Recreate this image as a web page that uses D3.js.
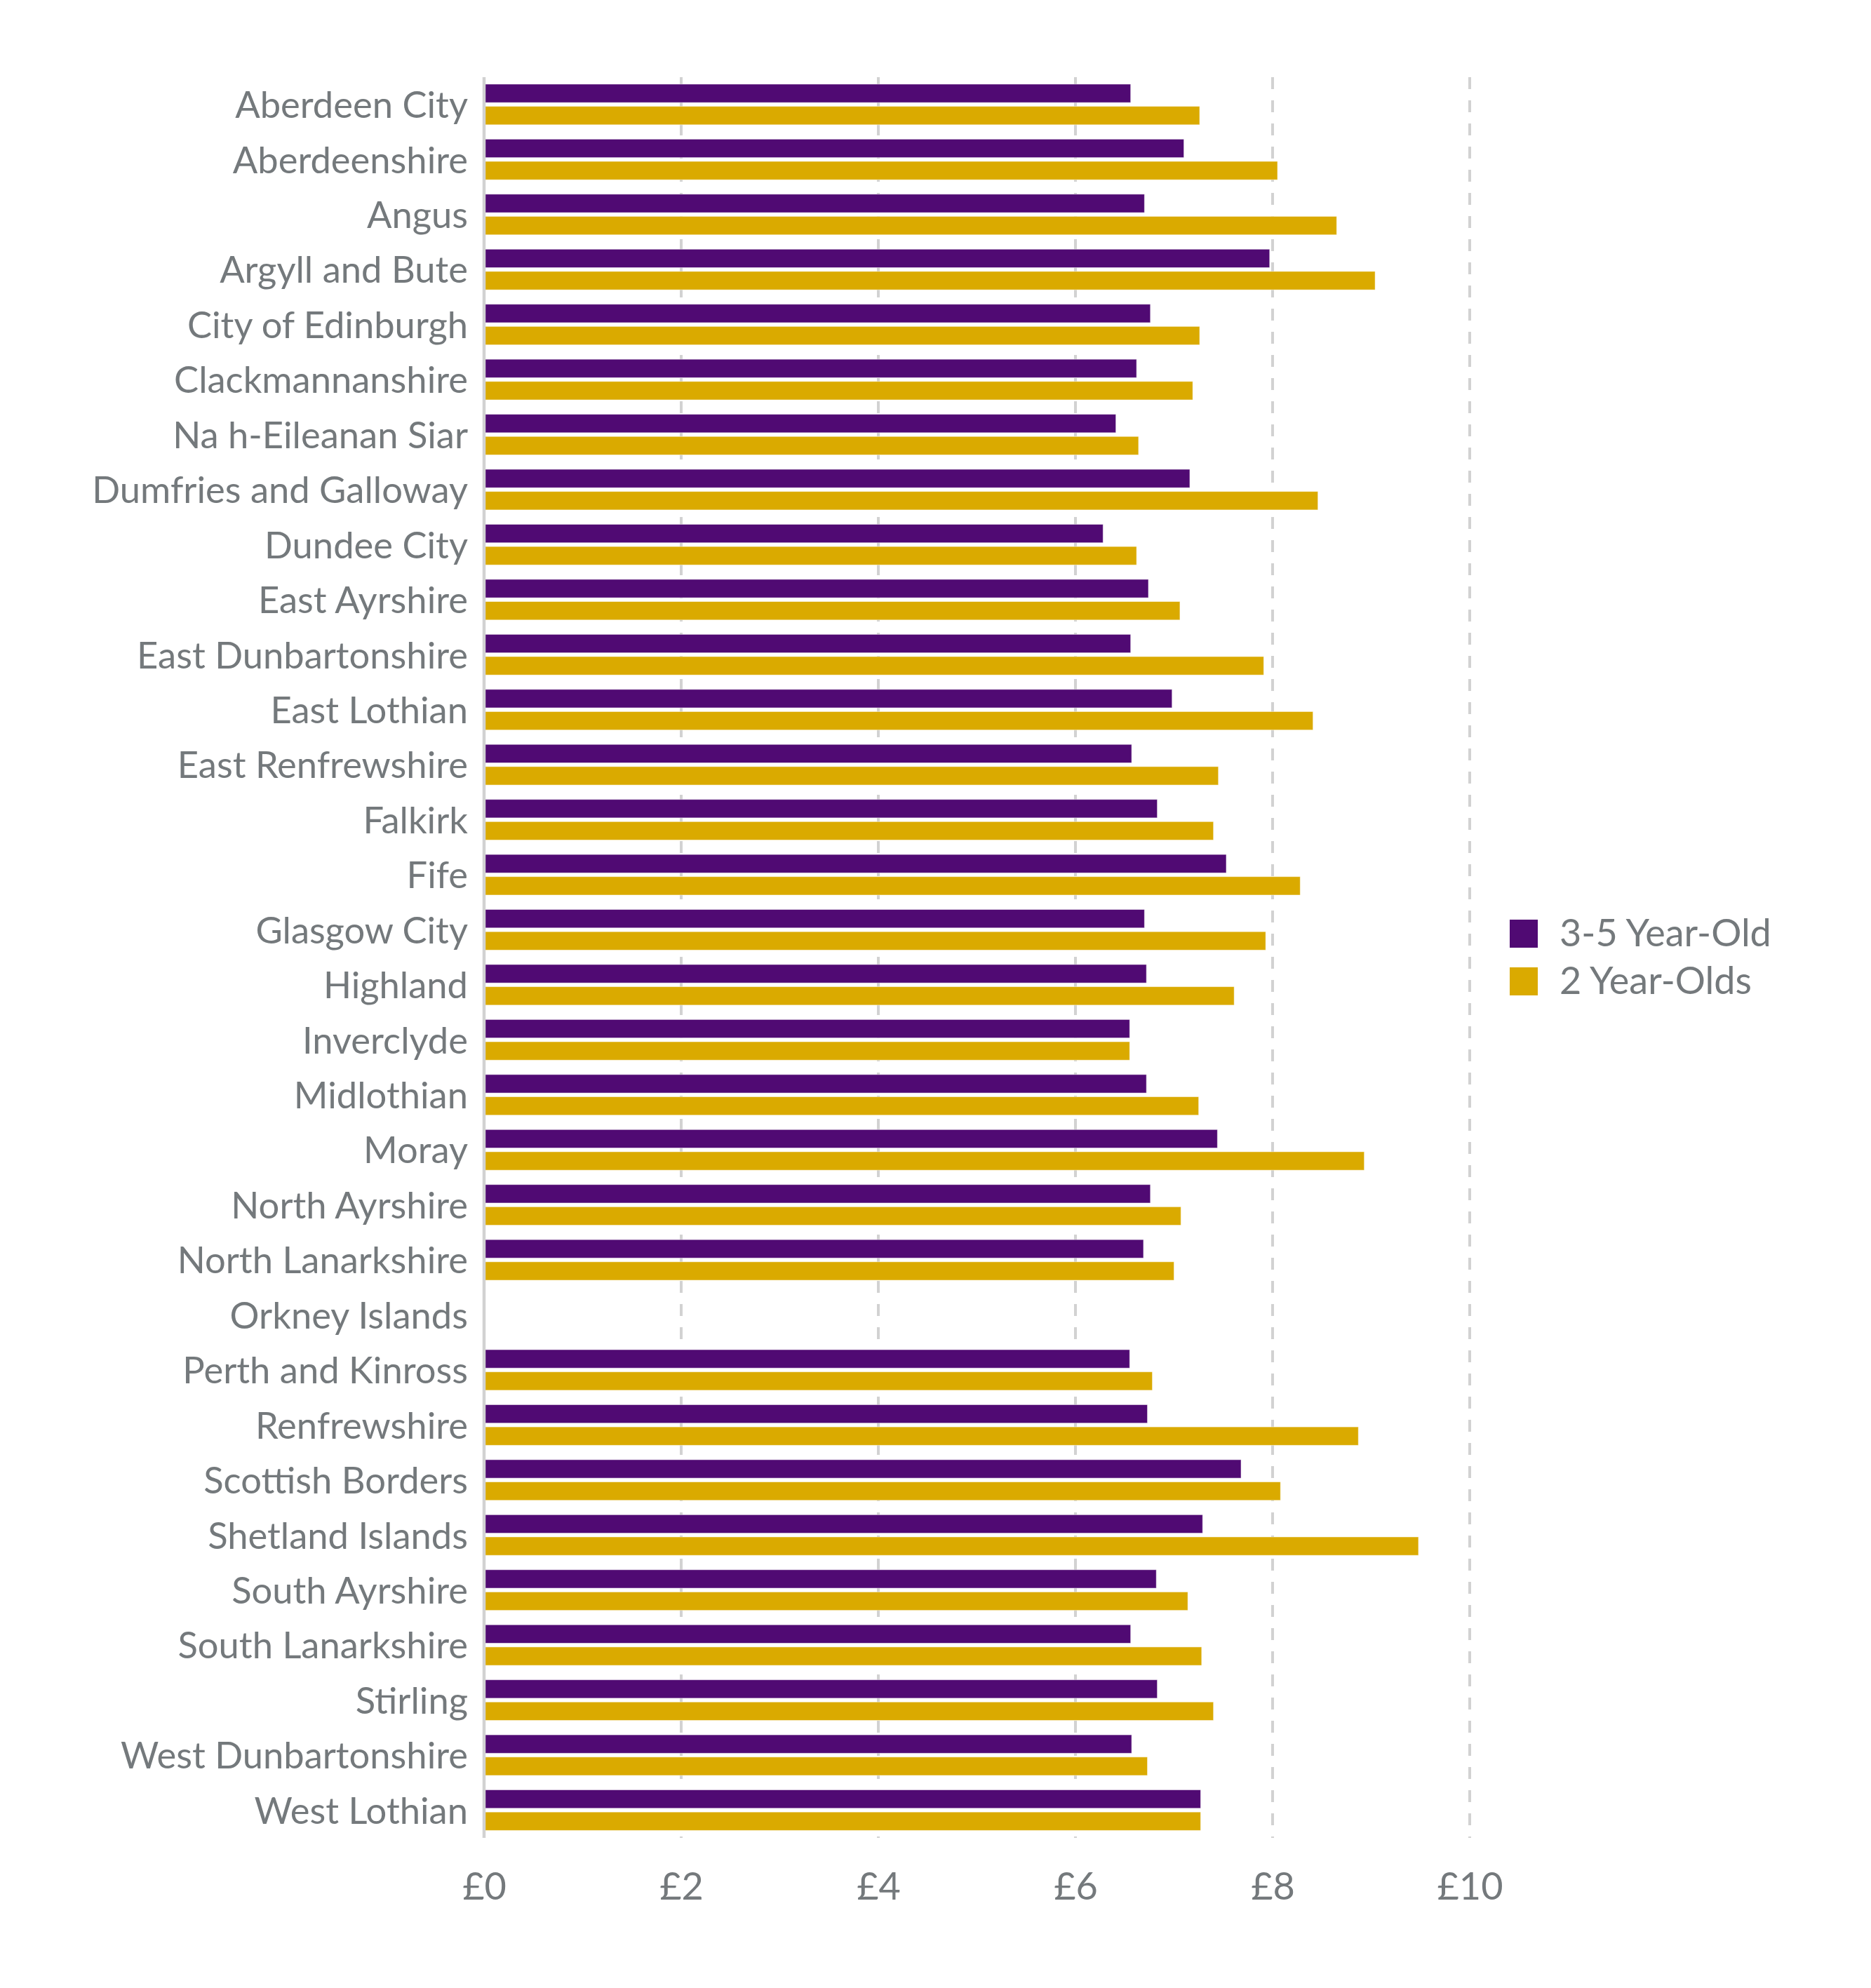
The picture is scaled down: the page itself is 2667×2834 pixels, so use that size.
<!DOCTYPE html>
<html>
<head>
<meta charset="utf-8">
<script src="https://cdn.jsdelivr.net/npm/d3@7/dist/d3.min.js"></script>
<style>
	html, body { margin: 0; padding: 0; background: #fff; }
	svg text { font-family: "Lato", "Open Sans", sans-serif; fill: #74797c; }
</style>
</head>
<body>
<svg width="2667" height="2834"></svg>
<script>
// council areas, top to bottom
var councils = [
	"Aberdeen City", "Aberdeenshire", "Angus", "Argyll and Bute", "City of Edinburgh",
	"Clackmannanshire", "Na h-Eileanan Siar", "Dumfries and Galloway", "Dundee City",
	"East Ayrshire", "East Dunbartonshire", "East Lothian", "East Renfrewshire", "Falkirk",
	"Fife", "Glasgow City", "Highland", "Inverclyde", "Midlothian", "Moray",
	"North Ayrshire", "North Lanarkshire", "Orkney Islands", "Perth and Kinross",
	"Renfrewshire", "Scottish Borders", "Shetland Islands", "South Ayrshire",
	"South Lanarkshire", "Stirling", "West Dunbartonshire", "West Lothian"
];

var seriesNames = ["3-5 Year-Old", "2 Year-Olds"];

// hourly rate, 3-5 year olds
var rate35 = [
	6.56, 7.10, 6.70, 7.97, 6.76, 6.62, 6.41, 7.16, 6.28, 6.74, 6.56, 6.98, 6.57, 6.83,
	7.53, 6.70, 6.72, 6.55, 6.72, 7.44, 6.76, 6.69, null, 6.55, 6.73, 7.68, 7.29, 6.82,
	6.56, 6.83, 6.57, 7.27
];

// hourly rate, 2 year olds
var rate2 = [
	7.26, 8.05, 8.65, 9.04, 7.26, 7.19, 6.64, 8.46, 6.62, 7.06, 7.91, 8.41, 7.45, 7.40,
	8.28, 7.93, 7.61, 6.55, 7.25, 8.93, 7.07, 7.00, null, 6.78, 8.87, 8.08, 9.48, 7.14,
	7.28, 7.40, 6.73, 7.27
];

var xTicks = [0, 2, 4, 6, 8, 10];
var colors = ["#500a73", "#daaa00"];

(function() {
	var svg = d3.select("svg");

	var plotLeft = 690, plotRight = 2095, plotTop = 110, plotBottom = 2620;

	var x = d3.scaleLinear().domain([0, 10]).range([plotLeft, plotRight]);
	var y = d3.scaleBand().domain(councils).range([plotTop, plotBottom]).padding(0);
	var inner = d3.scaleBand().domain(seriesNames)
		.range([y.bandwidth() * 0.127, y.bandwidth() * 0.865]).paddingInner(0.17);

	// gridlines
	svg.append("g").attr("class", "grid")
		.selectAll("line").data(xTicks.filter(function(d) { return d > 0; })).enter().append("line")
		.attr("x1", function(d) { return x(d); })
		.attr("x2", function(d) { return x(d); })
		.attr("y1", plotTop).attr("y2", plotBottom)
		.attr("stroke", "#d2d2d2").attr("stroke-width", 4)
		.attr("stroke-dasharray", "17,16");

	// bars
	var rows = councils.map(function(c, i) {
		return { name: c, values: [rate35[i], rate2[i]] };
	});

	var group = svg.append("g").attr("class", "bars")
		.selectAll("g").data(rows).enter().append("g")
		.attr("transform", function(d) { return "translate(0," + y(d.name) + ")"; });

	group.selectAll("rect")
		.data(function(d) {
			return d.values.map(function(v, j) { return { s: seriesNames[j], v: v, j: j }; })
				.filter(function(e) { return e.v != null; });
		})
		.enter().append("rect")
		.attr("x", x(0) + 1)
		.attr("y", function(d) { return inner(d.s); })
		.attr("width", function(d) { return x(d.v) - x(0) - 1; })
		.attr("height", inner.bandwidth())
		.attr("fill", function(d) { return colors[d.j]; })
		.attr("stroke", "#fff").attr("stroke-opacity", 0.5).attr("stroke-width", 1);

	// zero axis line
	svg.append("line")
		.attr("x1", x(0)).attr("x2", x(0))
		.attr("y1", plotTop).attr("y2", plotBottom)
		.attr("stroke", "#d2d2d2").attr("stroke-width", 4.5);

	// category labels
	var yAxis = svg.append("g")
		.attr("transform", "translate(" + (x(0) - 2) + ",0)")
		.call(d3.axisLeft(y).tickSize(0).tickPadding(21));
	yAxis.select(".domain").remove();
	yAxis.selectAll("text")
		.attr("font-size", 52.5).attr("font-family", null).attr("fill", null)
		.attr("dy", "0.36em");

	// x tick labels
	var xAxis = svg.append("g")
		.attr("transform", "translate(0," + plotBottom + ")")
		.call(d3.axisBottom(x).tickValues(xTicks).tickSize(0).tickPadding(50)
			.tickFormat(function(d) { return "£" + d; }));
	xAxis.select(".domain").remove();
	xAxis.selectAll("text")
		.attr("font-size", 54).attr("font-family", null).attr("fill", null);

	// legend
	var legend = svg.append("g").attr("class", "legend")
		.selectAll("g").data(seriesNames).enter().append("g")
		.attr("transform", function(d, i) { return "translate(2152," + (1311 + i * 68) + ")"; });

	legend.append("rect")
		.attr("width", 40).attr("height", 40)
		.attr("fill", function(d, i) { return colors[i]; });

	legend.append("text")
		.attr("x", 71).attr("y", 38)
		.attr("font-size", 54)
		.text(function(d) { return d; });
})();
</script>
</body>
</html>
